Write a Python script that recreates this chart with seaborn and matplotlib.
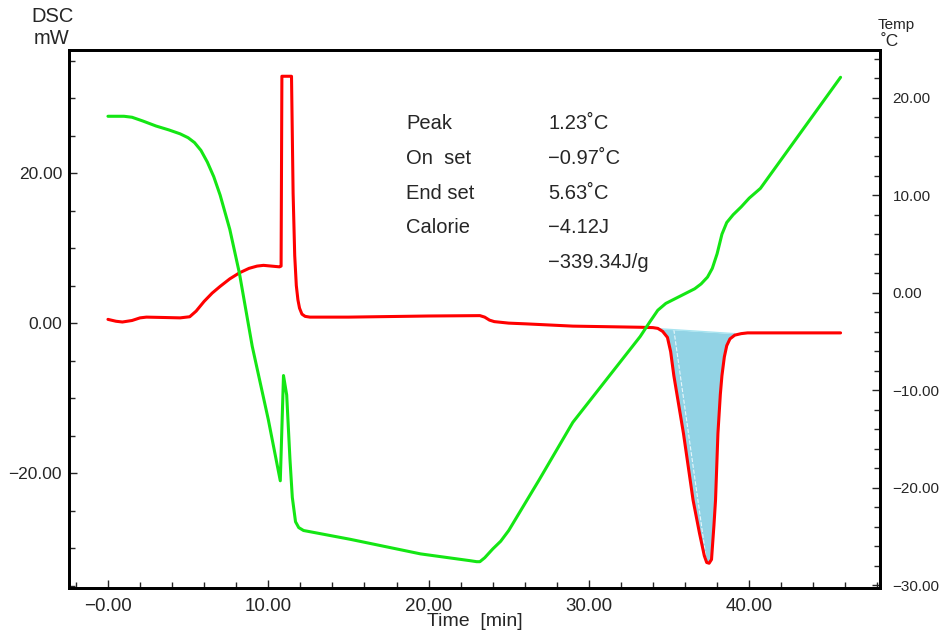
import numpy as np
import matplotlib
matplotlib.use("Agg")
import matplotlib.pyplot as plt
from matplotlib.ticker import MultipleLocator, FixedLocator
import seaborn as sns

sns.set_style("white")
plt.rcParams["font.family"] = ["Liberation Sans", "DejaVu Sans"]
plt.rcParams["axes.unicode_minus"] = True

# DSC curve (left axis, mW)
time_dsc = [0, 0.5, 0.9, 1.5, 2.0, 2.4, 3.5, 4.5, 5.1, 5.5, 6.0, 6.5, 7.0, 7.6,
            8.2, 8.8, 9.3, 9.7, 10.2, 10.7, 10.8, 10.85, 11.45, 11.55, 11.65,
            11.75, 11.85, 11.95, 12.1, 12.3, 12.6, 15.0, 20.0, 23.2, 23.5, 23.8,
            24.1, 25.0, 26.1, 29.0, 33.2, 34.0, 34.3, 34.6, 34.9, 35.1, 35.3,
            35.9, 36.5, 36.9, 37.2, 37.35, 37.5, 37.65, 37.8, 37.9, 38.05, 38.2,
            38.3, 38.45, 38.6, 38.8, 39.1, 39.5, 39.9, 45.7]
dsc = [0.5, 0.25, 0.15, 0.35, 0.7, 0.8, 0.75, 0.7, 0.85, 1.6, 2.9, 4.0, 4.9, 5.9,
       6.7, 7.3, 7.6, 7.7, 7.6, 7.5, 7.6, 32.9, 32.9, 17.3, 9.0,
       5.0, 3.1, 2.0, 1.2, 0.9, 0.8, 0.8, 0.95, 1.0, 0.8, 0.4,
       0.2, 0.0, -0.1, -0.4, -0.55, -0.6, -0.7, -1.1, -1.9, -3.8, -7.0,
       -14.7, -23.6, -28.0, -31.0, -31.9, -32.0, -31.5, -27.0, -23.6, -14.7, -9.5,
       -7.0, -4.5, -3.0, -2.1, -1.6, -1.4, -1.3, -1.3]

# temperature curve (right axis, degC)
time_temp = [0, 1.0, 1.5, 2.2, 3.0, 3.8, 4.5, 5.0, 5.4, 5.8, 6.2, 6.6, 7.0, 7.6,
             8.2, 9.0, 10.0, 10.75, 10.95, 11.15, 11.35, 11.5, 11.7, 11.9, 12.2,
             15.1, 19.5, 22.6, 23.0, 23.2, 23.5, 24.0, 24.5, 25.0, 26.9, 29.0,
             31.1, 33.2, 33.8, 34.3, 34.8, 35.4, 36.0, 36.6, 37.0, 37.4, 37.7,
             38.0, 38.3, 38.6, 39.0, 39.5, 40.0, 40.7, 45.7]
temp = [18.1, 18.1, 18.0, 17.6, 17.1, 16.7, 16.3, 15.9, 15.4, 14.6, 13.4, 11.9, 10.0, 6.5,
        2.0, -5.5, -13.0, -19.3, -8.5, -10.5, -17.0, -21.0, -23.5, -24.1, -24.4,
        -25.3, -26.8, -27.5, -27.6, -27.6, -27.2, -26.3, -25.5, -24.4, -19.2, -13.3,
        -8.9, -4.5, -3.0, -1.8, -1.1, -0.6, -0.1, 0.4, 0.9, 1.6, 2.5,
        4.0, 6.0, 7.2, 8.0, 8.8, 9.7, 10.7, 22.1]

# peak integration baseline (onset -> endset)
base_t = [34.4, 39.1]
base_v = [-0.75, -1.4]

x_ticks = [0, 10, 20, 30, 40]
x_labels = ["\u22120.00", "10.00", "20.00", "30.00", "40.00"]
dsc_ticks = [-20, 0, 20]
dsc_labels = ["\u221220.00", "0.00", "20.00"]
temp_ticks = [-30, -20, -10, 0, 10, 20]
temp_labels = ["\u221230.00", "\u221220.00", "\u221210.00", "0.00", "10.00", "20.00"]

result_names = ["Peak", "On  set", "End set", "Calorie", ""]
result_values = ["1.23\u02daC", "\u22120.97\u02daC", "5.63\u02daC", "\u22124.12J", "\u2212339.34J/g"]

fig = plt.figure(figsize=(9.42, 6.34), dpi=100)
ax = fig.add_axes([69 / 942, 46 / 634, 811 / 942, 538 / 634])
ax2 = ax.twinx()

# filled peak area
td = np.array(time_dsc)
vd = np.array(dsc)
m = (td >= base_t[0]) & (td <= base_t[1])
ft = np.concatenate([[base_t[0]], td[m], [base_t[1]]])
fv = np.concatenate([[base_v[0]], vd[m], [base_v[1]]])
ax.fill_between(ft, fv, np.interp(ft, base_t, base_v), color="#92d3e5", lw=0, zorder=1)
ax.plot([35.3, 37.35], [np.interp(35.3, base_t, base_v), -31.9], color="white",
        lw=0.8, ls="--", alpha=0.8, zorder=1.5)
ax.plot(base_t, base_v, color="#a8e4f0", lw=1, zorder=1.5)

sns.lineplot(x=time_dsc, y=dsc, ax=ax, color="red", lw=2.2, sort=False,
             estimator=None, zorder=3)
sns.lineplot(x=time_temp, y=temp, ax=ax2, color="#14e614", lw=2.2, sort=False,
             estimator=None, zorder=3)

ax.set_xlim(-2.43, 48.16)
ax.set_ylim(-35.3, 36.4)
ax2.set_ylim(-30.3, 24.9)

ax.xaxis.set_major_locator(FixedLocator(x_ticks))
ax.set_xticklabels(x_labels, fontsize=13.5)
ax.xaxis.set_minor_locator(MultipleLocator(2))
ax.yaxis.set_major_locator(FixedLocator(dsc_ticks))
ax.set_yticklabels(dsc_labels, fontsize=12.5)
ax.yaxis.set_minor_locator(MultipleLocator(5))
ax2.yaxis.set_major_locator(FixedLocator(temp_ticks))
ax2.set_yticklabels(temp_labels, fontsize=11)
ax2.yaxis.set_minor_locator(MultipleLocator(2))

ax.tick_params(axis="x", which="both", direction="in", pad=7, bottom=True)
ax.tick_params(axis="y", which="both", direction="in", pad=5, left=True)
ax.tick_params(which="major", length=6, width=1)
ax.tick_params(which="minor", length=4, width=1)
ax2.tick_params(axis="y", which="both", direction="in", pad=9, right=True)
ax2.tick_params(which="major", length=6, width=1)
ax2.tick_params(which="minor", length=4, width=1)

for a in (ax, ax2):
    for s in a.spines.values():
        s.set_color("black")
        s.set_linewidth(2)
ax.set_xlabel("Time  [min]", fontsize=14)
ax.xaxis.label.set_va("center")
ax.xaxis.set_label_coords(0.5, -0.063)
ax.set_ylabel("")
ax2.set_ylabel("")

fig.text(53 / 942, 1 - 16 / 634, "DSC", ha="center", va="center", fontsize=14.5)
fig.text(52 / 942, 1 - 38 / 634, "mW", ha="center", va="center", fontsize=14.5)
fig.text(896 / 942, 1 - 25 / 634, "Temp", ha="center", va="center", fontsize=11)
fig.text(890 / 942, 1 - 41 / 634, "\u02daC", ha="center", va="center", fontsize=12.5)

line_y = [26.67, 22.0, 17.33, 12.8, 8.13]
for name, val, yy in zip(result_names, result_values, line_y):
    ax.text(18.59, yy, name, ha="left", va="center", fontsize=14.5)
    ax.text(27.45, yy, val, ha="left", va="center", fontsize=14.5)

fig.savefig("out.png", dpi=100)
